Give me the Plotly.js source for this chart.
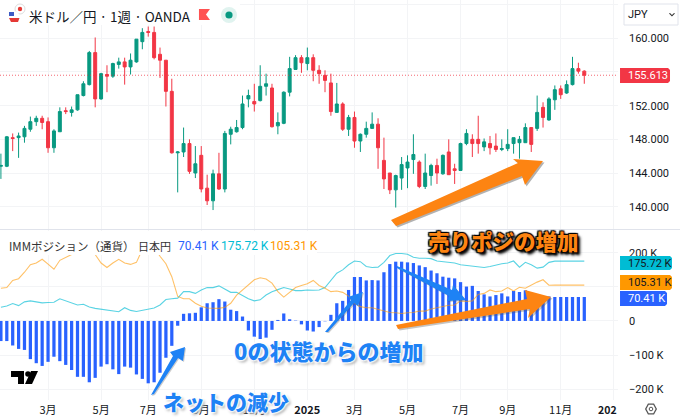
<!DOCTYPE html>
<html><head><meta charset="utf-8">
<script src="https://cdn.plot.ly/plotly-3.0.1.min.js"></script>
<style>html,body{margin:0;padding:0;background:#fff}#c{width:680px;height:420px}</style>
</head><body><div id="c"></div>
<script>
const opens=[144.8,144.8,148.2,148.2,148.3,149.2,150.1,150.5,150.1,147,148.9,151.4,151.2,151.5,153.2,154.5,158.3,152.8,155.7,155.5,156.9,157.2,156.6,157.2,159.6,160.8,160.7,158.1,157.4,153.7,146.4,146.5,147.5,144,146.1,142.2,140.7,143.9,142.1,148.6,148.9,149.4,152.8,152.5,152.6,154.3,154.1,149.6,149.9,153.6,156.3,157.7,157,157.7,156.2,155.6,154.7,151.2,152.2,149.2,150.6,147.8,148.6,149.3,149.8,145.5,144,142,143.4,144.6,145.6,145.3,142.4,143.7,144.9,143.9,146.5,144.5,144.3,147.5,148,148,147.1,147.5,147.2,146.8,146.9,147.5,147.6,147.6,149.4,149.3,151.8,150.3,152.7,154,153.5,154.5,156.4,156.1];
const highs=[146.3,148.4,148.7,148.8,149.6,150.7,150.8,150.8,150.6,149.2,151.8,151.8,151.9,153.3,154.9,158.5,160.1,155.9,156.8,157.1,157.7,157.7,158.2,159.9,161.2,161.4,161.4,158.9,157.4,155.2,146.6,149.4,148,147.2,147.2,143.8,144.4,146.4,149,149.5,150.3,153.2,153.9,154.6,156.8,155.8,154.6,151.2,153.7,157.8,158,158,158.9,158.1,156.8,156.2,155.8,154.7,152.4,150.9,151.3,148.7,150.1,151.2,150.5,148.2,144,143.8,145.9,146.1,148.6,145.5,146.3,145.1,145.7,146.2,148,145.1,147.6,149.2,148.6,150.8,148.1,148.4,148.7,148,149.2,148.2,148.4,149.9,149.4,153.2,152.4,153,154.4,154.4,155,157.8,157.1,156.2];
const lows=[143.3,144.7,146.6,145.8,147.6,148.9,149.6,149.2,146.4,146.4,148.9,151,150.7,151.4,153.1,154.4,151.8,152.7,153.6,155.3,156.4,154.5,155.7,157.1,158.7,160.2,157.5,155.3,151.9,146.3,141.7,145.9,143.9,143.4,141.7,140.2,139.6,142,141.7,147.4,148.8,149.2,151.8,151.3,152.5,153.2,149.4,148.6,149.8,153.1,156.3,155.9,156.2,154.9,154.6,153.6,150.8,151.2,149,148.4,147,146.5,148.2,149.3,144.5,142.1,141.5,139.9,142,142.2,143.9,142.2,142.1,142.5,142.7,143.8,143.8,142.7,144.3,147.3,145.9,146.3,146.6,146.2,146.5,146.6,146.6,146.3,145.7,147.6,146.5,149,149.4,150.2,151.5,152.8,153.4,154.4,155.8,154.6];
const closes=[144.9,148.3,148.1,148.4,149.3,150.1,150.5,150,147,149,151.3,151.3,151.5,153.3,154.6,158.3,152.8,155.8,155.5,157,157.2,156.6,157.4,159.9,160.7,160.7,157.7,157.4,153.7,146.4,146.5,147.5,144.2,145.1,142.1,140.7,143.9,142.1,148.7,149.2,149.4,152.2,153.2,152.2,154.3,154.6,149.5,150,153.6,156.4,157.7,157.1,157.7,156.2,155.8,155,151.3,152.2,149.2,150.6,147.8,148.6,149.3,149.8,147,143.3,142,143.7,145,145.3,146.2,142.4,144,144.9,144,146.1,143.8,144.3,147.5,148.7,147.5,147.5,147.7,147,146.8,146.9,147.4,148.2,148,149.4,147.4,151.2,150.6,152.8,153.9,153.3,154.5,156.4,156.1,155.613];
const netPosition=[-59,-59,-72,-82,-85,-112,-124,-132,-120,-105,-118,-129,-144,-164,-164,-180,-167,-134,-127,-142,-156,-134,-137,-157,-170,-183,-180,-152,-108,-73,-14,21,22.5,24,40,52,55,64,57,33,29,13,-28,-46,-53,-49,-26,3,22,5,1,-10,-28,-31,-18,-1,18,52,59,91,129,129,119,120,119,143,167,174,174,172,170,163,158,148,140,130,127,125,114,101,103,88,78,72,76,81,72,88,85,90,80,75,72,72,70.41,70.41,70.41,70.41,70.41,70.41];
const longPosition=[40,44,51,45,56,59,56,53,54,55,65,59,53,47,49,41,37,34,33,28,27,39,31,28,32,34,38,47,63,65,67,86,86,81,91,98,98,103,93,84,84,74,65,59,62,76,86,92,98,94,89,89,91,90,91,98,120,140,150,165,176,174,160,157,158,172,192,198,198,196,187,184,184,183,176,174,172,170,165,163,162,159,157,160,165,168,170,176,158,172,165,155,158,172,175.72,175.72,175.72,175.72,175.72,175.72];
const shortPosition=[96,98,119,124,143,165,170,181,167,152,178,187,195,215,225,210,195,170,157,170,181,170,166,172,210,225,215,190,168,130,72,65,65,52,43,38,37,37,40,52,76,91,106,121,127,123,111,86,70,84,98,104,109,119,104,96,86,88,84,73,52,42,39,39,35,29,25,24,22,24,25,29,29,35,39,44,46,47,59,57,59,78,81,91,86,88,98,88,99,96,106,114,121,105,105.31,105.31,105.31,105.31,105.31,105.31];
const timeTickWeeks=[7,16,24,33,42,51,59,68,77,85,94,103];
const timeTickLabels=['3月','5月','7月','9月','11月','<b>2025</b>','3月','5月','7月','9月','11月',''];
const priceTicks=[140,144,148,152,156,160,164];
const priceLabels=['140.000','144.000','148.000','152.000','','160.000',''];
const netTicks=[-200,-100,0,100,200];
const netLabels=['−200 K','−100 K','0','','200 K'];
const lastPrice=155.613;

const W=680,H=420;
const weeks=opens.map((_,i)=>i-1);
const CJK='"Noto Sans CJK JP","Noto Sans",sans-serif';
const TXT='Roboto,"Noto Sans CJK JP",sans-serif';
const px=x=>(x/W).toFixed(4), py=y=>(1-y/H).toFixed(4);
function poly(pts,fill,op){return {type:'path',xref:'paper',yref:'paper',layer:'above',line:{width:0},fillcolor:fill,opacity:op==null?1:op,
  path:'M'+pts.map(p=>px(p[0])+','+py(p[1])).join('L')+'Z'};}
function rect(x0,y0,x1,y1,fill){return {type:'rect',xref:'paper',yref:'paper',layer:'above',x0:x0/W,x1:x1/W,y0:1-y1/H,y1:1-y0/H,fillcolor:fill,line:{width:0}};}
function circ(cx,cy,r,fill,lc){return {type:'circle',xref:'paper',yref:'paper',layer:'above',x0:(cx-r)/W,x1:(cx+r)/W,y0:1-(cy+r)/H,y1:1-(cy-r)/H,fillcolor:fill,line:{width:lc?1:0,color:lc||fill}};}
function pill(x0,y0,x1,y1,fill){const r=2;return poly([[x0,y0],[x1-r,y0],[x1,y0+r],[x1,y1-r],[x1-r,y1],[x0,y1]],fill);}
function shifted(pts,d){return pts.map(p=>[p[0]+d,p[1]+d]);}
function note(x,y,text,o){return {xref:'paper',yref:'paper',x:x/W,y:1-y/H,text:text,showarrow:false,xanchor:'left',yanchor:'middle',borderpad:0,
  font:Object.assign({family:TXT,size:12,color:'#131722'},o||{})};}
function noteA(x,y,text,anchor,o){const n=note(x,y,text,o);n.xanchor=anchor;return n;}

const orangeUp=[[391,220],[518,163],[513,159],[543,161],[525,185],[522,176],[396,226]];
const orangeLow=[[396,325],[527,299],[525,290],[551,297],[528,318],[530,309],[398,329]];
const blueA=[[151,395],[173,356],[170,352],[185,347],[183,361],[178,358],[154,394]];
const blueB=[[325,332],[351,300],[348,297],[363,292],[358,306],[354,303],[328,332]];
const blueC=[[397,266],[452,290],[453,285],[466,300],[447,301],[449,296],[397,268]];
const ORANGE='#FD8412',BLUE='#1E82F5';

const traces=[
 {type:'bar',x:weeks,y:netPosition,xaxis:'x',yaxis:'y2',marker:{color:'#2962FF',line:{width:0}},hoverinfo:'skip'},
 {type:'scatter',mode:'lines',x:weeks,y:longPosition,xaxis:'x',yaxis:'y2',line:{color:'rgba(0,188,212,0.65)',width:1.1},hoverinfo:'skip'},
 {type:'scatter',mode:'lines',x:weeks,y:shortPosition,xaxis:'x',yaxis:'y2',line:{color:'rgba(255,152,0,0.6)',width:1.1},hoverinfo:'skip'},
 {type:'candlestick',x:weeks,open:opens,high:highs,low:lows,close:closes,xaxis:'x2',yaxis:'y',whiskerwidth:0,
  increasing:{line:{color:'#089981',width:1},fillcolor:'#089981'},
  decreasing:{line:{color:'#F23645',width:1},fillcolor:'#F23645'},hoverinfo:'skip'}
];
const xr=[-1.154,103.72],grid='#f3f4f6';
const layout={width:W,height:H,margin:{l:0,r:0,t:0,b:0,pad:0},paper_bgcolor:'#fff',plot_bgcolor:'#fff',showlegend:false,bargap:0.45,boxgap:0.28,
 xaxis:{domain:[0,618/W],range:xr,anchor:'y2',tickmode:'array',tickvals:timeTickWeeks,ticktext:timeTickLabels,showgrid:true,gridcolor:grid,gridwidth:1,zeroline:false,showline:false,ticks:'',tickfont:{family:CJK,size:11,color:'#131722'},ticklabelstandoff:2},
 xaxis2:{domain:[0,618/W],range:xr,anchor:'y',tickmode:'array',tickvals:timeTickWeeks,showticklabels:false,showgrid:true,gridcolor:grid,gridwidth:1,zeroline:false,showline:false,ticks:'',rangeslider:{visible:false}},
 yaxis:{domain:[191/H,1],range:[137.35,164.55],side:'right',anchor:'x2',tickmode:'array',tickvals:priceTicks,ticktext:priceLabels,showgrid:true,gridcolor:grid,zeroline:false,showline:false,ticks:'',ticklabelstandoff:10,tickfont:{family:TXT,size:11,color:'#131722'}},
 yaxis2:{domain:[20/H,190/H],range:[-232,267],side:'right',anchor:'x',tickmode:'array',tickvals:netTicks,ticktext:netLabels,showgrid:true,gridcolor:grid,zeroline:false,showline:false,ticks:'',ticklabelstandoff:10,tickfont:{family:TXT,size:11,color:'#131722'}},
 shapes:[
  {type:'line',xref:'x2',yref:'y',x0:xr[0],x1:xr[1],y0:lastPrice,y1:lastPrice,layer:'above',opacity:0.75,line:{color:'#F23645',width:1,dash:'1px,2px'}},
  rect(0,0,240,25,'#fff'),
  rect(0,231,317,255,'#fff'),
  rect(0,229,680,230,'#e0e3eb'),
  circ(20,9,5,'#fff','#ddd'),circ(20,9,2.2,'#E53935'),
  circ(14,16.5,5.5,'#fff'),
  poly([[9,12],[14,12],[14,16],[9,16]],'#3D5AC4'),
  poly([[9,18],[19.5,18],[18,22],[11,22]],'#E53935'),
  poly([[199,9],[210,9],[206,14.5],[210,20],[199,20]],'#FF5252'),
  circ(229,15,8,'#E0F3EF'),circ(229,15,3.6,'#089981'),
  {type:'rect',xref:'paper',yref:'paper',layer:'above',x0:624/W,x1:678/W,y0:1-25/H,y1:1-4/H,fillcolor:'#fff',line:{color:'#e0e3eb',width:1}},
  poly([[670,13],[672,15],[674,13],[675,13.6],[672,16.5],[669,13.6]],'#333'),
  pill(620,68,670,83,'#F23645'),
  pill(620,256,672,270,'#00BCD4'),
  pill(620,275,672,290,'#FF9800'),
  pill(620,291,667,306,'#2962FF'),
  poly([[11,371],[24,371],[24,384],[18,384],[18,377],[11,377]],'#000'),
  circ(28,374,2.8,'#000'),
  poly([[31,371],[38,371],[32,384],[25,384]],'#000'),
  poly([[645,409],[648,403.5],[654,403.5],[657,409],[654,414.5],[648,414.5]],'#555'),
  poly([[646.4,409],[648.7,404.8],[653.3,404.8],[655.6,409],[653.3,413.2],[648.7,413.2]],'#fff'),
  circ(651,409,1.8,'#fff','#555'),
  poly(shifted(orangeUp,1.5),'#555',0.45),poly(orangeUp,ORANGE),
  poly(shifted(orangeLow,1.5),'#555',0.35),poly(orangeLow,ORANGE),
  poly(shifted(blueC,1),'#555',0.3),poly(blueC,BLUE),
  poly(shifted(blueA,1),'#555',0.3),poly(blueA,BLUE),
  poly(shifted(blueB,1),'#555',0.3),poly(blueB,BLUE)
 ],
 annotations:[
  note(28,16,'米ドル／円 · 1週 · OANDA',{family:CJK,size:13.5}),
  note(627,15,'JPY',{size:11}),
  note(627,75.5,'155.613',{color:'#fff',size:11}),
  note(627,263,'175.72 K',{size:11}),
  note(627,282.5,'105.31 K',{size:11}),
  note(627,298.5,'70.41 K',{color:'#fff',size:11}),
  note(8,245.5,'IMMポジション（通貨）',{family:CJK,size:11.5,color:'#333'}),
  note(137,245.5,'日本円',{family:CJK,size:11,color:'#333'}),
  note(177,245.5,'70.41 K',{color:'#2962FF',size:12}),
  note(220,245.5,'175.72 K',{color:'#00BCD4',size:12}),
  note(269,245.5,'105.31 K',{color:'#FF9800',size:12}),
  noteA(618,409,'<b>202</b>','right',{family:CJK,size:10.5}),
  noteA(503,240,'売りポジの増加','center',{family:CJK,size:21.5,weight:900,color:ORANGE,shadow:'2px 2px 2px #000,-1px -1px 1px #000,1px -1px 1px #000,-1px 1px 1px #000,3px 3px 3px #333'}),
  noteA(328,350,'0の状態からの増加','center',{family:CJK,size:22,weight:900,color:BLUE,shadow:'1px 1px 2px #fff,-1px -1px 2px #fff,1px -1px 2px #fff,-1px 1px 2px #fff,2px 2px 3px #999'}),
  noteA(226,401,'ネットの減少','center',{family:CJK,size:21,weight:900,color:BLUE,shadow:'1px 1px 2px #fff,-1px -1px 2px #fff,1px -1px 2px #fff,-1px 1px 2px #fff,2px 2px 3px #999'})
 ]
};
Plotly.newPlot('c',traces,layout,{displayModeBar:false,staticPlot:true});
</script></body></html>
